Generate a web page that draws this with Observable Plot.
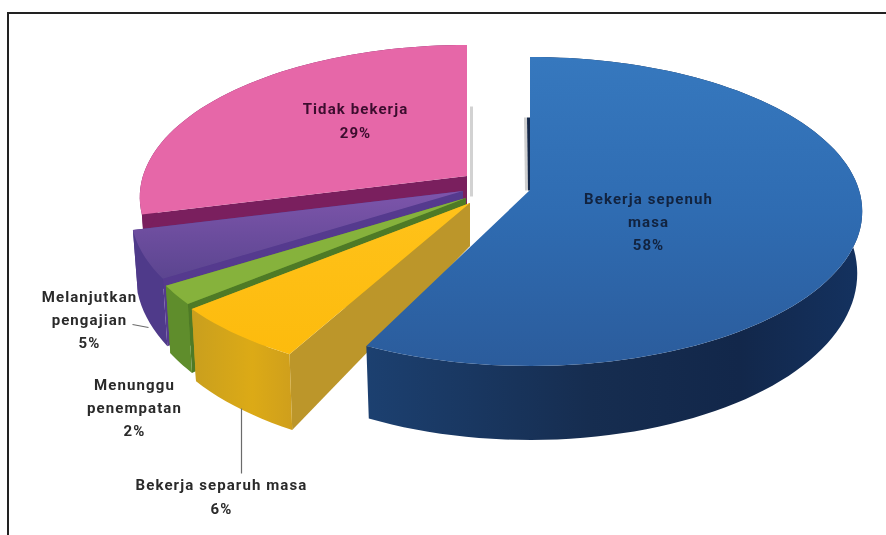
<!DOCTYPE html>
<html><head><meta charset="utf-8">
<script src="https://cdn.jsdelivr.net/npm/d3@7"></script>
<script src="https://cdn.jsdelivr.net/npm/@observablehq/plot@0.6"></script>
<style>html,body{margin:0;padding:0;background:#fff}svg{display:block}</style>
</head><body><div id="chart"></div>
<script>
const categories = ["Bekerja sepenuh masa","Bekerja separuh masa","Menunggu penempatan","Melanjutkan pengajian","Tidak bekerja"];
const values = [58,6,2,5,29];
const labelLines = ["Bekerja sepenuh\nmasa","Bekerja separuh masa","Menunggu\npenempatan","Melanjutkan\npengajian","Tidak bekerja"];

// layout
const W=886,H=535;
const apexes=[[530,190],[470,203],[466,198],[463,191],[467,176]];
const radiusScale=[1,1,1,1,0.985];
const depthScale=[1,1.05,1,1,1];
const trimEnd=[3,0,0,0,0];
const labelShift=[[118,29],[-249,291],[-332,207],[-374,126],[-112,-58]];
const leaderFrom=[null,[-229,205],null,[-331,133],null];
const leaderTo=[null,[-229,270],null,[-315,136],null];
const order=[4,3,2,1,0];
const A=329,B=151.5,K=0.139,APEXDEPTH=43,F=0.985;
const topFill=["url(#gBlue)","url(#gYellow)","#86b23c","url(#gPurple)","#e667a8"];
const sideFill=["url(#gBlueSide)","url(#gYellowSide)","#5f8d2c","#4f3a8a","#7a1f5e"];
const cutStart=["#14294a","#bc962a","#4e7a26","#553a8e","#7a1f5e"];
const cutEnd=["#14294a","#c9a01f","#5f8d2c","#4f3a8a","#7a1f5e"];

const rad=d=>d*Math.PI/180;
function rimTop(i,t){const a=apexes[i],g=radiusScale[i],r=rad(t),c=Math.cos(r),s=1/(1+K*c);return {x:a[0]+g*A*Math.sin(r)*s,y:a[1]-g*B*c*s,c};}
function rimBot(i,t){const a=apexes[i],p=rimTop(i,t);return {x:a[0]+(p.x-a[0])*F,y:p.y+(60-14*p.c)*depthScale[i]};}

let cum=0;
const slices=values.map((v,i)=>{const t0=cum/d3.sum(values)*360;cum+=v;const t1=cum/d3.sum(values)*360-trimEnd[i];return {i,t0,t1,a:apexes[i]};});
const arcPts=s=>{const n=Math.max(8,Math.ceil((s.t1-s.t0)/2));return d3.range(n+1).map(k=>s.t0+(s.t1-s.t0)*k/n);};

function defs(){
  const mk=(id,dir,stops)=>`<linearGradient id="${id}" x1="0" y1="0" x2="${dir=='h'?1:0}" y2="${dir=='h'?0:1}">${stops.map(([o,c])=>`<stop offset="${o}" stop-color="${c}"/>`).join("")}</linearGradient>`;
  const g=document.createElementNS("http://www.w3.org/2000/svg","defs");
  g.innerHTML=mk("gBlue","v",[[0,"#3678be"],[0.5,"#2f6cb2"],[1,"#2b5c9c"]])
   +mk("gBlueSide","h",[[0,"#1c4070"],[0.45,"#162d50"],[0.75,"#12274a"],[1,"#143260"]])
   +mk("gYellow","v",[[0,"#ffc21a"],[1,"#fdbb0d"]])
   +mk("gYellowSide","h",[[0,"#c99f1e"],[0.6,"#dcaa16"],[1,"#cf9f1c"]])
   +mk("gPurple","v",[[0,"#7d55ab"],[1,"#5b4590"]]);
  return g;
}

const marks=[defs];
// soft edge shadows and the sliver of dark cut face beside the blue slice
const pinkA=apexes[4],blueA=apexes[0];
const strip=(x1,y1,x2,y2,stroke,strokeWidth)=>Plot.link([{x1,y1,x2,y2}],{x1:"x1",y1:"y1",x2:"x2",y2:"y2",stroke,strokeWidth});
marks.push(strip(pinkA[0]+4,pinkA[1]-70,pinkA[0]+4,pinkA[1]+20,"#d2d2d2",3));
marks.push(strip(blueA[0]-5,blueA[1]-73,blueA[0]-4,blueA[1],"#cfcfcf",3));
marks.push(strip(blueA[0]-2,blueA[1]-73,blueA[0]-1,blueA[1],"#15294a",3));
for(const i of order){
  const s=slices[i],a=s.a,ts=arcPts(s);
  const face=(rows,fill)=>Plot.area(rows,{x1:"x1",y1:"y1",x2:"x2",y2:"y2",fill,curve:"linear"});
  const side=ts.map(t=>{const p=rimTop(i,t),q=rimBot(i,t);return {x1:p.x,y1:p.y,x2:q.x,y2:q.y};});
  const ap={x:a[0],y:a[1]},ab={x:a[0],y:a[1]+APEXDEPTH};
  const cut=t=>{const p=rimTop(i,t),q=rimBot(i,t);return [{x1:ap.x,y1:ap.y,x2:ab.x,y2:ab.y},{x1:p.x,y1:p.y,x2:q.x,y2:q.y}];};
  if(i!==0) marks.push(face(cut(s.t1),cutEnd[i]));
  marks.push(face(cut(s.t0),cutStart[i]));
  marks.push(face(side,sideFill[i]));
  const tf=ts.map(t=>{const p=rimTop(i,t);return {x1:a[0],y1:a[1],x2:p.x,y2:p.y};});
  marks.push(face(tf,topFill[i]));
}
const leaders=slices.filter(s=>leaderFrom[s.i]).map(s=>({x1:s.a[0]+leaderFrom[s.i][0],y1:s.a[1]+leaderFrom[s.i][1],x2:s.a[0]+leaderTo[s.i][0],y2:s.a[1]+leaderTo[s.i][1]}));
marks.push(Plot.link(leaders,{x1:"x1",y1:"y1",x2:"x2",y2:"y2",stroke:"#6b6b6b",strokeWidth:1.2}));
const labels=slices.map(s=>({x:s.a[0]+labelShift[s.i][0],y:s.a[1]+labelShift[s.i][1],t:labelLines[s.i]+"\n"+values[s.i]+"%",i:s.i}));
marks.push(Plot.text(labels,{x:"x",y:"y",text:"t",fontSize:15,fontWeight:700,lineHeight:1.55,fontFamily:"Roboto, 'Liberation Sans', sans-serif",textAnchor:"middle",fill:d=>d.i===0?"#12233f":d.i===4?"#3c0d2e":"#2a2a2a"}));
marks.push(Plot.ruleY([12.5],{x1:7,x2:886,stroke:"#222",strokeWidth:2}));
marks.push(Plot.ruleX([7.5],{y1:12,y2:535,stroke:"#222",strokeWidth:2}));

const chart=Plot.plot({width:W,height:H,margin:0,
  x:{domain:[0,W],range:[0,W],axis:null},
  y:{domain:[0,H],range:[0,H],axis:null},
  style:{background:"#fff",letterSpacing:"1.1px"},marks});
chart.style.filter="blur(0.6px)";
document.getElementById("chart").append(chart);
</script></body></html>
